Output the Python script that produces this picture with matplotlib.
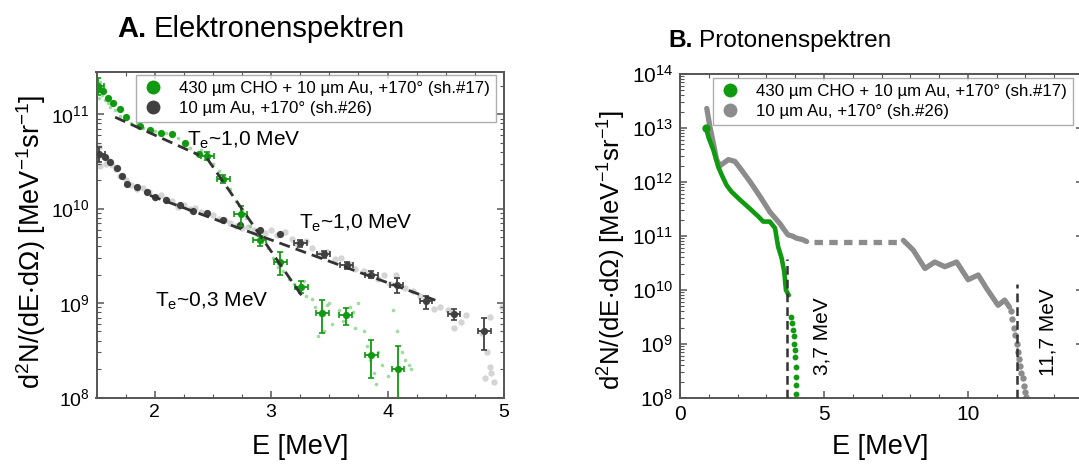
import matplotlib
matplotlib.use("Agg")
import numpy as np
import matplotlib.pyplot as plt
from matplotlib.lines import Line2D
from matplotlib.ticker import LogLocator, MultipleLocator, NullFormatter

plt.rcParams['font.family'] = ['Liberation Sans', 'DejaVu Sans']
plt.rcParams['mathtext.fontset'] = 'custom'
plt.rcParams['mathtext.rm'] = 'Liberation Sans'
plt.rcParams['mathtext.it'] = 'Liberation Sans:italic'
plt.rcParams['mathtext.bf'] = 'Liberation Sans:bold'
plt.rcParams['mathtext.default'] = 'regular'

# ---------------- A: electron spectra ----------------
label_cho = "430 µm CHO + 10 µm Au, +170° (sh.#17)"
label_au = "10 µm Au, +170° (sh.#26)"

# raw (unbinned) samples
e_raw_cho_E = [1.50, 1.50, 1.51, 1.52, 1.53, 1.55, 1.57, 1.60, 1.62, 1.66, 1.70, 1.75, 1.80, 1.85,
               1.90, 1.95, 2.00, 2.05, 2.10, 2.15, 2.20, 2.25, 2.30, 2.35, 2.40, 2.45, 2.50, 2.55,
               2.60, 2.65, 2.70, 2.75, 2.78, 2.82, 2.88, 2.92, 2.97, 3.02, 3.06, 3.10, 3.15, 3.20,
               3.25, 3.28, 3.30, 3.35, 3.38, 3.40, 3.42, 3.45, 3.48, 3.50, 3.52, 3.58, 3.62, 3.68,
               3.70, 3.72, 3.75, 3.80, 3.82, 3.85, 3.88, 3.90, 3.92, 3.95, 4.00, 4.05, 4.08, 4.12,
               4.15, 4.18, 4.20]
e_raw_cho_N = [2.8e11, 2.4e11, 1.9e11, 1.5e11, 2.2e11, 1.6e11, 1.4e11, 1.3e11, 1.2e11, 1.1e11,
               9.5e10, 8.8e10, 8.0e10, 7.8e10, 7.2e10, 7.0e10, 6.6e10, 6.3e10, 6.4e10, 6.0e10,
               5.6e10, 5.0e10, 4.4e10, 3.9e10, 4.2e10, 3.6e10, 3.0e10, 2.5e10, 2.0e10, 1.6e10,
               1.2e10, 1.0e10, 8.0e9, 6.5e9, 5.2e9, 4.4e9, 3.8e9, 3.0e9, 2.4e9, 2.2e9, 1.8e9,
               1.6e9, 1.4e9, 1.7e9, 1.2e9, 1.1e9, 9.0e8, 4.5e8, 7.5e8, 5.0e8, 9.5e8, 1.0e9,
               6.0e8, 8.5e8, 6.5e8, 9.0e8, 8.0e8, 5.5e8, 1.0e9, 5.0e8, 3.5e8, 2.5e8, 1.8e8,
               1.4e8, 3.0e8, 2.2e8, 1.7e8, 8.5e8, 5.0e8, 3.0e8, 2.5e8, 2.2e8, 2.0e8]

e_raw_au_E = [1.50, 1.52, 1.53, 1.55, 1.58, 1.60, 1.63, 1.67, 1.70, 1.75, 1.80, 1.85, 1.90, 1.95,
              2.00, 2.05, 2.10, 2.15, 2.20, 2.25, 2.30, 2.35, 2.40, 2.45, 2.50, 2.55, 2.60, 2.65,
              2.70, 2.75, 2.80, 2.85, 2.95, 3.00, 3.05, 3.12, 3.18, 3.22, 3.30, 3.35, 3.40, 3.48,
              3.55, 3.60, 3.68, 3.72, 3.80, 3.85, 3.92, 3.97, 4.02, 4.07, 4.15, 4.22, 4.28, 4.32,
              4.35, 4.40, 4.45, 4.52, 4.55, 4.57, 4.63, 4.67, 4.81, 4.84, 4.85, 4.88, 4.88, 4.89,
              4.91, 4.98]
e_raw_au_N = [3.2e10, 4.5e10, 2.8e10, 3.6e10, 3.0e10, 3.3e10, 2.9e10, 2.6e10, 2.2e10, 2.0e10,
              1.8e10, 1.6e10, 1.65e10, 1.5e10, 1.3e10, 1.4e10, 1.25e10, 1.2e10, 1.05e10, 1.1e10,
              9.8e9, 1.02e10, 9.2e9, 8.8e9, 8.6e9, 7.8e9, 7.5e9, 7.0e9, 6.6e9, 6.2e9, 6.4e9,
              6.0e9, 5.5e9, 5.9e9, 5.3e9, 5.6e9, 4.8e9, 4.2e9, 4.5e9, 3.8e9, 3.3e9, 3.5e9,
              2.9e9, 3.0e9, 2.6e9, 2.3e9, 2.2e9, 2.1e9, 1.8e9, 2.0e9, 1.6e9, 2.0e9, 1.45e9,
              1.35e9, 1.2e9, 1.07e9, 1.1e9, 8.7e8, 9.0e8, 8.5e8, 7.8e8, 5.4e8, 6.3e8, 7.4e8,
              4.8e8, 1.6e8, 3.0e8, 7.1e8, 2.1e8, 1.8e8, 1.45e8, 9.1e8]

# binned spectra (points without error bars)
e_cho_E = [1.52, 1.56, 1.60, 1.64, 1.70, 1.75, 1.87, 1.96, 2.05, 2.15, 2.26, 2.38]
e_cho_N = [1.85e11, 1.76e11, 1.5e11, 1.3e11, 1.13e11, 9.4e10, 7.5e10, 6.8e10, 6.4e10,
           6.2e10, 5.0e10, 3.8e10]
e_au_E = [1.57, 1.62, 1.68, 1.72, 1.76, 1.85, 1.93, 2.00, 2.10, 2.22, 2.33, 2.45, 2.59,
          2.73, 2.90, 3.08]
e_au_N = [3.5e10, 3.1e10, 2.7e10, 2.2e10, 1.82e10, 1.7e10, 1.5e10, 1.33e10, 1.23e10,
          1.08e10, 9.5e9, 8.9e9, 7.6e9, 6.7e9, 6.0e9, 5.4e9]

# binned spectra with error bars (value, lower and upper bound)
e_cho_err_E = [1.51, 2.45, 2.59, 2.74, 2.90, 3.08, 3.26, 3.44, 3.64, 3.86, 4.09]
e_cho_err_N = [2.0e11, 3.6e10, 2.05e10, 8.7e9, 4.7e9, 2.7e9, 1.48e9, 7.8e8, 7.4e8, 2.8e8, 2.0e8]
e_cho_err_lo = [1.6e11, 3.25e10, 1.87e10, 6.5e9, 4.05e9, 2.0e9, 1.29e9, 4.8e8, 5.8e8, 1.6e8, 5e7]
e_cho_err_hi = [2.4e11, 4.0e10, 2.27e10, 1.07e10, 5.1e9, 3.5e9, 1.7e9, 1.07e9, 8.9e8, 4.1e8, 3.5e8]

e_au_err_E = [1.52, 3.25, 3.45, 3.65, 3.86, 4.08, 4.33, 4.57, 4.83]
e_au_err_N = [3.8e10, 4.3e9, 3.3e9, 2.5e9, 2.0e9, 1.55e9, 1.05e9, 7.6e8, 5.0e8]
e_au_err_lo = [3.1e10, 3.9e9, 3.0e9, 2.3e9, 1.85e9, 1.29e9, 8.7e8, 6.6e8, 3.2e8]
e_au_err_hi = [4.5e10, 4.7e9, 3.6e9, 2.7e9, 2.2e9, 1.86e9, 1.2e9, 8.7e8, 6.9e8]

# exponential fits (end points)
fit_cho_hot_E = [1.66, 2.38]
fit_cho_hot_N = [9.3e10, 3.7e10]
fit_cho_cold_E = [2.45, 3.29]
fit_cho_cold_N = [3.4e10, 1.07e9]
fit_au_E = [1.96, 4.43]
fit_au_N = [1.38e10, 1.05e9]

# ---------------- B: proton spectra ----------------
p_cho_E = [0.90, 1.00, 1.16, 1.33, 1.45, 1.62, 1.79, 2.08, 2.43, 2.72, 2.89, 3.12, 3.30,
           3.41, 3.53, 3.62, 3.68, 3.78]
p_cho_N = [1.0e13, 6.5e12, 3.9e12, 1.9e12, 1.35e12, 8.7e11, 6.6e11, 4.7e11, 3.2e11, 2.3e11,
           1.85e11, 1.85e11, 1.4e11, 6.3e10, 3.9e10, 2.2e10, 1.0e10, 8.0e9]
p_cho_tail_E = [3.86, 3.90, 3.93, 3.95, 3.97, 3.99, 4.01, 4.02, 4.03, 4.04, 4.04]
p_cho_tail_N = [3.2e9, 2.4e9, 1.8e9, 1.4e9, 1.0e9, 7.8e8, 5.8e8, 3.8e8, 2.5e8, 1.75e8, 1.2e8]

p_au_E = [0.93, 1.04, 1.16, 1.27, 1.39, 1.68, 1.91, 2.14, 2.43, 2.78, 3.12, 3.47, 3.60,
          3.75, 3.90, 4.05, 4.25, 4.40]
p_au_N = [2.3e13, 1.05e13, 5.2e12, 2.6e12, 2.0e12, 2.6e12, 2.4e12, 1.66e12, 1.02e12, 5.4e11,
          2.8e11, 1.7e11, 1.35e11, 1.05e11, 1.0e11, 9.1e10, 8.6e10, 7.9e10]
p_au_gap_E = [4.65, 7.76]
p_au_gap_N = [7.9e10, 7.9e10]
p_au_hi_E = [7.76, 8.10, 8.51, 8.85, 9.20, 9.61, 10.01, 10.36, 10.65, 11.05, 11.28, 11.45]
p_au_hi_N = [8.3e10, 5.5e10, 2.5e10, 3.3e10, 2.7e10, 3.3e10, 1.55e10, 1.9e10, 1.07e10,
             5.2e9, 6.5e9, 4.8e9]
p_au_tail_E = [11.50, 11.55, 11.60, 11.64, 11.69, 11.73, 11.78, 11.82, 11.86, 11.90, 11.94, 11.99, 12.03]
p_au_tail_N = [4.0e9, 2.9e9, 2.0e9, 1.45e9, 1.0e9, 7.0e8, 5.2e8, 3.9e8, 2.9e8, 2.3e8,
               1.7e8, 1.3e8, 1.05e8]

cutoff_E = [3.7, 11.7]
cutoff_top = [3.7e10, 1.3e10]
cutoff_text = ["3,7 MeV", "11,7 MeV"]

# ---------------- styling ----------------
GREEN = '#0f9a0f'
DARK = '#404040'
GREY = '#8c8c8c'
FIT = '#333333'
AXC = '#555555'

W, H = 1079, 466
fig = plt.figure(figsize=(W / 100, H / 100), dpi=100)


def rect(l, t, r, b):
    return [l / W, 1 - b / H, (r - l) / W, (b - t) / H]


def style(ax, labelsize):
    for s in ax.spines.values():
        s.set_color(AXC)
        s.set_linewidth(1.4)
    ax.set_yscale('log')
    ax.yaxis.set_major_locator(LogLocator(base=10, numticks=20))
    ax.yaxis.set_minor_locator(LogLocator(base=10, subs=np.arange(2, 10), numticks=20))
    ax.yaxis.set_minor_formatter(NullFormatter())
    ax.tick_params(which='both', direction='in', top=True, right=True, color=AXC,
                   labelcolor='black', labelsize=labelsize)
    ax.tick_params(which='major', length=5, width=1.1, pad=5)
    ax.tick_params(which='minor', length=3, width=0.8)


axA = fig.add_axes(rect(96.5, 72, 504, 397.5))
axB = fig.add_axes(rect(680, 74, 1083, 398))
style(axA, 14)
style(axB, 15)

# ---- panel A ----
axA.plot(e_raw_au_E, e_raw_au_N, 'o', ms=4.6, color='#c4c4c4', alpha=0.7, mec='none', zorder=1)
axA.plot(e_raw_cho_E, e_raw_cho_N, 'o', ms=2.6, color='#7fcf7f', alpha=0.75, mec='none', zorder=2)

axA.plot(e_au_E, e_au_N, 'o', ms=5.2, color=DARK, mec='none', zorder=3)
au_lo = np.array(e_au_err_N) - np.array(e_au_err_lo)
au_hi = np.array(e_au_err_hi) - np.array(e_au_err_N)
axA.errorbar(e_au_err_E, e_au_err_N, yerr=[au_lo, au_hi], xerr=0.055, fmt='o', ms=5.2,
             color=DARK, mec='none', elinewidth=1.3, capsize=2.2, capthick=1.2, zorder=3)

axA.plot(e_cho_E, e_cho_N, 'o', ms=5.2, color=GREEN, mec='none', zorder=4)
cho_lo = np.array(e_cho_err_N) - np.array(e_cho_err_lo)
cho_hi = np.array(e_cho_err_hi) - np.array(e_cho_err_N)
axA.errorbar(e_cho_err_E, e_cho_err_N, yerr=[cho_lo, cho_hi], xerr=0.055, fmt='o', ms=5.2,
             color=GREEN, mec='none', elinewidth=1.3, capsize=2.2, capthick=1.2, zorder=4)

for fe, fn in [(fit_cho_hot_E, fit_cho_hot_N), (fit_cho_cold_E, fit_cho_cold_N), (fit_au_E, fit_au_N)]:
    axA.plot(fe, fn, color=FIT, lw=2.0, dashes=(4, 2.2), zorder=6)

axA.text(2.28, 10 ** 10.67, r"$T_e$~1,0 MeV", fontsize=15, va='baseline', zorder=7)
axA.text(3.24, 10 ** 9.79, r"$T_e$~1,0 MeV", fontsize=15, va='baseline', zorder=7)
axA.text(2.00, 10 ** 8.96, r"$T_e$~0,3 MeV", fontsize=15, va='baseline', zorder=7)

axA.set_xlim(1.5, 5)
axA.set_ylim(1e8, 2.8e11)
axA.xaxis.set_major_locator(MultipleLocator(1))
axA.xaxis.set_minor_locator(MultipleLocator(0.25))

handlesA = [Line2D([], [], ls='none', marker='o', ms=10, color=GREEN, mec='none'),
            Line2D([], [], ls='none', marker='o', ms=10, color=DARK, mec='none')]
legA = axA.legend(handlesA, [label_cho, label_au], loc='upper right', bbox_to_anchor=(0.981, 0.992),
                  fontsize=12.2, frameon=True, fancybox=False, borderpad=0.35, labelspacing=0.3,
                  handlelength=1.3, handletextpad=0.9, borderaxespad=0)
legA.get_frame().set_edgecolor('#9a9a9a')
legA.get_frame().set_linewidth(1.0)

# ---- panel B ----
axB.plot(p_au_E, p_au_N, '-', color=GREY, lw=3.8, solid_capstyle='round', solid_joinstyle='round', zorder=2)
axB.plot(p_au_gap_E, p_au_gap_N, color=GREY, lw=3.8, dashes=(1.6, 1.2), dash_capstyle='butt', zorder=2)
axB.plot(p_au_hi_E, p_au_hi_N, '-', color=GREY, lw=3.8, solid_capstyle='round', solid_joinstyle='round', zorder=2)
axB.plot(p_au_tail_E, p_au_tail_N, 'o', ms=4.6, color=GREY, mec='none', zorder=2)

axB.plot(p_cho_E, p_cho_N, '-', color=GREEN, lw=3.3, solid_capstyle='round', solid_joinstyle='round', zorder=3)
axB.plot(p_cho_E[:1], p_cho_N[:1], 'o', ms=6, color=GREEN, mec='none', zorder=3)
axB.plot(p_cho_tail_E, p_cho_tail_N, 'o', ms=4.2, color=GREEN, mec='none', zorder=3)

for ce, ct in zip(cutoff_E, cutoff_top):
    axB.plot([ce, ce], [1e8, ct], color=FIT, lw=1.8, dashes=(3.5, 2), zorder=5)
axB.text(4.92, 10 ** 9.14, cutoff_text[0], rotation=90, fontsize=15, ha='center', va='center')
axB.text(12.78, 10 ** 9.22, cutoff_text[1], rotation=90, fontsize=15, ha='center', va='center')

axB.set_xlim(0, 14)
axB.set_ylim(1e8, 1e14)
axB.xaxis.set_major_locator(MultipleLocator(5))
axB.xaxis.set_minor_locator(MultipleLocator(1))

handlesB = [Line2D([], [], ls='none', marker='o', ms=10, color=GREEN, mec='none'),
            Line2D([], [], ls='none', marker='o', ms=10, color=GREY, mec='none')]
legB = axB.legend(handlesB, [label_cho, label_au], loc='upper right', bbox_to_anchor=(0.975, 0.988),
                  fontsize=12.2, frameon=True, fancybox=False, borderpad=0.35, labelspacing=0.3,
                  handlelength=1.3, handletextpad=0.9, borderaxespad=0)
legB.get_frame().set_edgecolor('#9a9a9a')
legB.get_frame().set_linewidth(1.0)

# ---- axis labels and titles ----
ylab = r"d$^2$N/(dE$\cdot$d$\Omega$) [MeV$^{-1}$sr$^{-1}$]"
fig.text(31 / W, 1 - 242 / H, ylab, rotation=90, fontsize=19.5, ha='center', va='center')
fig.text(612 / W, 1 - 250 / H, ylab, rotation=90, fontsize=18.5, ha='center', va='center')
fig.text(300 / W, 1 - 447 / H, "E [MeV]", fontsize=19.5, ha='center', va='center')
fig.text(880 / W, 1 - 447 / H, "E [MeV]", fontsize=19.5, ha='center', va='center')

tA = fig.text(117 / W, 1 - 37 / H, "A.", fontsize=21, fontweight='bold', va='baseline')
axA.annotate("Elektronenspektren", xy=(1, 0), xycoords=tA, xytext=(5, 0), textcoords='offset points',
             fontsize=21, va='bottom', ha='left', annotation_clip=False)
tB = fig.text(668 / W, 1 - 47 / H, "B.", fontsize=17.6, fontweight='bold', va='baseline')
axB.annotate("Protonenspektren", xy=(1, 0), xycoords=tB, xytext=(4.5, 0), textcoords='offset points',
             fontsize=17.6, va='bottom', ha='left', annotation_clip=False)

fig.savefig("out.png", dpi=100)
